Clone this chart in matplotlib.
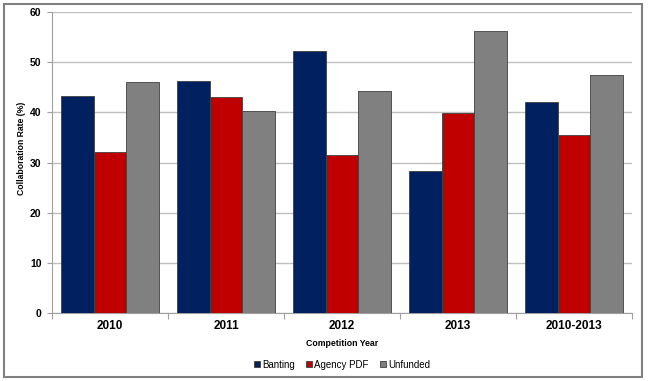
import matplotlib
matplotlib.use('Agg')
import matplotlib.pyplot as plt
from matplotlib.patches import Rectangle
import numpy as np

plt.rcParams['font.family'] = ['Liberation Sans', 'DejaVu Sans']

years = ['2010', '2011', '2012', '2013', '2010-2013']
banting = [43.3, 46.2, 52.2, 28.3, 42.1]
agency_pdf = [32.1, 43.1, 31.5, 39.8, 35.5]
unfunded = [46.0, 40.2, 44.2, 56.2, 47.4]

W, H = 649, 381
fig = plt.figure(figsize=(W / 100, H / 100), dpi=100)
ax = fig.add_axes([52 / W, (H - 313.3) / H, 580 / W, (313.3 - 12) / H])

x = np.arange(len(years))
bw = 0.284
kw = dict(width=bw, edgecolor='#404040', linewidth=0.6, zorder=3)
ax.bar(x - bw, banting, color='#002060', label='Banting', **kw)
ax.bar(x, agency_pdf, color='#C00000', label='Agency PDF', **kw)
ax.bar(x + bw, unfunded, color='#808080', label='Unfunded', **kw)

ax.set_xlim(-0.5, len(years) - 0.5)
ax.set_ylim(0, 60)
ax.set_yticks(range(0, 61, 10))
ax.yaxis.grid(True, color='#C0C0C0', linewidth=1.0, zorder=0)

# category ticks between the groups, labels in the middle
ax.set_xticks(np.arange(-0.5, len(years), 1.0))
ax.set_xticklabels([])
ax.set_xticks(x, minor=True)
ax.set_xticklabels(years, minor=True, fontsize=8.5, fontweight='bold')
ax.tick_params(axis='x', which='minor', length=0, pad=5)
ax.tick_params(axis='x', which='major', length=4, color='#A0A0A0')
ax.tick_params(axis='y', length=3.5, color='#A0A0A0', labelsize=7.5, pad=4)
for lab in ax.get_yticklabels():
    lab.set_fontweight('bold')

for s in ['top', 'right']:
    ax.spines[s].set_visible(False)
for s in ['left', 'bottom']:
    ax.spines[s].set_color('#A0A0A0')

ax.set_xlabel('Competition Year', fontsize=6.3, fontweight='bold', labelpad=5)
ax.set_ylabel('Collaboration Rate (%)', fontsize=6.2, fontweight='bold')
ax.yaxis.set_label_coords(-0.045, 0.549)

ax.legend(loc='center', bbox_to_anchor=(0.5, -0.17), ncol=3, frameon=False,
          fontsize=7, handlelength=0.6, handleheight=0.6, handletextpad=0.2,
          columnspacing=1.2)

# outer frame
fig.patches.append(Rectangle((4 / W, 4 / H), 638 / W, 373 / H, transform=fig.transFigure,
                             fill=False, edgecolor='#808080', linewidth=1.5))

fig.savefig('out.png', dpi=100)
